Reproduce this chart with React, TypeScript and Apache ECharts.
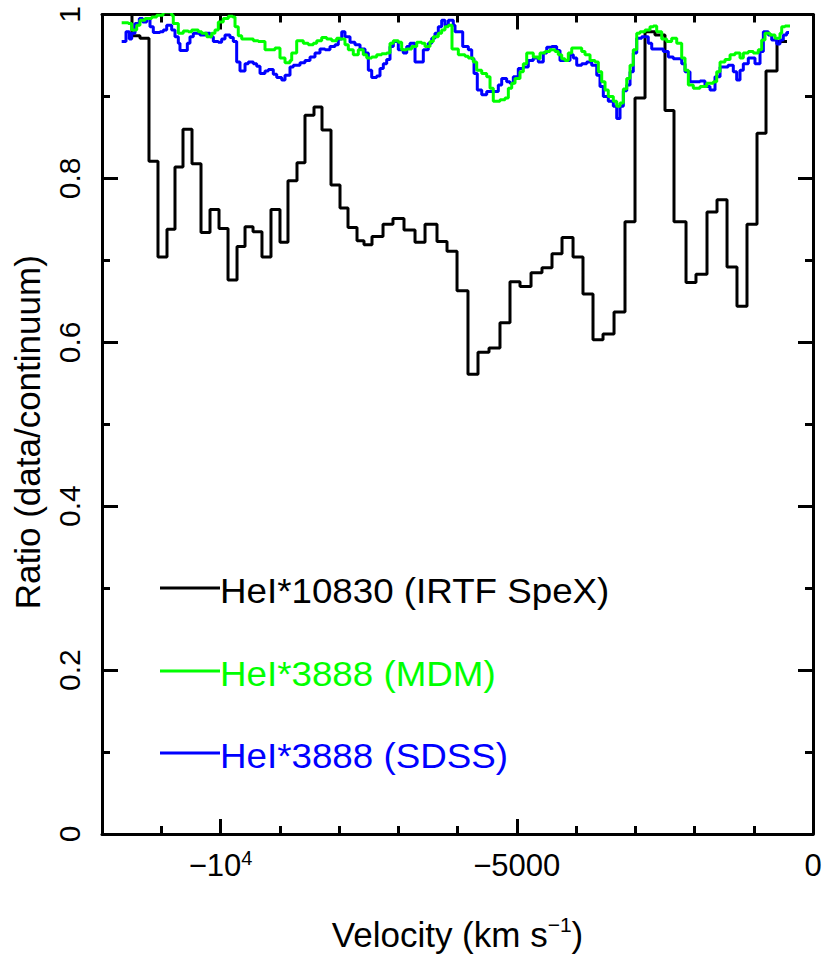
import React, { useEffect, useRef } from 'react';
import * as echarts from 'echarts';

const FONT = '"Liberation Sans", Arial, Helvetica, sans-serif';

// HeI*10830 (IRTF SpeX) — bin left edges (km/s) and ratio; last entry closes the final bin
const irtfVelocity = [
  -11662, -11494, -11359, -11207, -11055, -10903, -10768, -10633, -10481, -10329,
  -10177, -10025, -9873, -9721, -9586, -9451, -9300, -9148, -8996, -8861,
  -8709, -8574, -8422, -8287, -8135, -7983, -7848, -7696, -7578, -7443,
  -7257, -7089, -6903, -6717, -6548, -6346, -6177, -6008, -5823, -5654,
  -5468, -5283, -5114, -4945, -4759, -4574, -4405, -4236, -4050, -3882,
  -3713, -3544, -3358, -3173, -3004, -2835, -2667, -2498, -2346, -2143,
  -1975, -1789, -1620, -1451, -1283, -1114, -945, -793, -607, -439,
];
const irtfRatio = [
  1.05, 0.974, 0.971, 0.821, 0.704, 0.738, 0.814, 0.860, 0.818, 0.734,
  0.762, 0.739, 0.676, 0.717, 0.741, 0.735, 0.704, 0.762, 0.722, 0.797,
  0.819, 0.877, 0.887, 0.859, 0.792, 0.764, 0.740, 0.724, 0.719, 0.729,
  0.744, 0.751, 0.737, 0.722, 0.744, 0.723, 0.711, 0.663, 0.561, 0.588,
  0.593, 0.624, 0.674, 0.668, 0.685, 0.691, 0.708, 0.728, 0.704, 0.659,
  0.603, 0.610, 0.637, 0.747, 0.898, 0.979, 0.975, 0.883, 0.747, 0.673,
  0.683, 0.759, 0.774, 0.692, 0.644, 0.744, 0.855, 0.931, 0.967, 0.967,
];

// HeI*3888 (MDM)
const mdmVelocity = [
  -11668, -11556, -11499, -11414, -11359, -11274, -11161, -11077, -10970, -10824,
  -10797, -10712, -10628, -10543, -10486, -10375, -10317, -10233, -10149, -10093,
  -10037, -9953, -9868, -9794, -9755, -9700, -9642, -9446, -9362, -9249,
  -9080, -8996, -8911, -8827, -8798, -8714, -8602, -8518, -8434, -8376,
  -8292, -8208, -8123, -8039, -7983, -7899, -7843, -7759, -7674, -7590,
  -7532, -7448, -7364, -7279, -7195, -7139, -7083, -6999, -6942, -6857,
  -6773, -6688, -6604, -6548, -6464, -6408, -6324, -6267, -6211, -6155,
  -6093, -5986, -5873, -5817, -5733, -5676, -5591, -5507, -5451, -5396,
  -5283, -5198, -5142, -5085, -5029, -4945, -4889, -4832, -4721, -4636,
  -4607, -4523, -4439, -4354, -4299, -4241, -4186, -4130, -4072, -3904,
  -3848, -3763, -3679, -3623, -3566, -3510, -3455, -3370, -3313, -3257,
  -3201, -3144, -3088, -3033, -2975, -2920, -2835, -2751, -2694, -2638,
  -2553, -2469, -2385, -2300, -2216, -2160, -2104, -2020, -1907, -1794,
  -1682, -1625, -1569, -1485, -1400, -1316, -1232, -1176, -1092, -1007,
  -923, -866, -810, -726, -641, -557, -528, -472, -388,
];
const mdmRatio = [
  0.990, 0.989, 0.981, 0.987, 0.993, 0.995, 0.997, 0.999, 1.003, 0.999,
  0.989, 0.977, 0.980, 0.979, 0.981, 0.979, 0.977, 0.973, 0.977, 0.981,
  0.991, 0.995, 0.998, 0.997, 0.985, 0.974, 0.970, 0.968, 0.967, 0.957,
  0.959, 0.947, 0.941, 0.944, 0.953, 0.968, 0.965, 0.963, 0.965, 0.968,
  0.972, 0.970, 0.968, 0.971, 0.970, 0.963, 0.957, 0.951, 0.957, 0.951,
  0.947, 0.948, 0.951, 0.952, 0.953, 0.965, 0.968, 0.966, 0.957, 0.958,
  0.961, 0.966, 0.965, 0.961, 0.967, 0.973, 0.977, 0.981, 0.985, 0.987,
  0.958, 0.951, 0.949, 0.947, 0.942, 0.932, 0.928, 0.924, 0.910, 0.894,
  0.896, 0.898, 0.910, 0.916, 0.922, 0.930, 0.940, 0.953, 0.948, 0.946,
  0.953, 0.955, 0.957, 0.955, 0.951, 0.946, 0.944, 0.953, 0.959, 0.955,
  0.951, 0.944, 0.942, 0.930, 0.918, 0.908, 0.900, 0.894, 0.888, 0.892,
  0.909, 0.922, 0.938, 0.957, 0.977, 0.979, 0.981, 0.985, 0.986, 0.979,
  0.970, 0.967, 0.971, 0.965, 0.947, 0.932, 0.914, 0.910, 0.912, 0.916,
  0.918, 0.930, 0.942, 0.945, 0.951, 0.953, 0.947, 0.953, 0.955, 0.953,
  0.957, 0.969, 0.977, 0.975, 0.971, 0.977, 0.985, 0.986, 0.986,
];

// HeI*3888 (SDSS)
const sdssVelocity = [
  -11668, -11595, -11539, -11499, -11443, -11370, -11313, -11246, -11190, -11134,
  -11021, -10965, -10908, -10824, -10768, -10712, -10684, -10560, -10515, -10459,
  -10346, -10262, -10177, -10121, -10037, -9980, -9924, -9840, -9784, -9727,
  -9671, -9586, -9531, -9446, -9389, -9333, -9249, -9193, -9109, -9051,
  -8967, -8911, -8827, -8771, -8658, -8574, -8489, -8405, -8321, -8236,
  -8152, -8067, -8012, -7954, -7899, -7814, -7730, -7645, -7561, -7505,
  -7448, -7364, -7308, -7252, -7195, -7139, -7083, -6999, -6915, -6857,
  -6802, -6717, -6577, -6493, -6435, -6380, -6324, -6267, -6211, -6155,
  -6071, -6042, -5912, -5817, -5760, -5721, -5666, -5591, -5507, -5311,
  -5254, -5170, -5114, -5058, -4974, -4889, -4805, -4721, -4636, -4552,
  -4494, -4410, -4326, -4270, -4101, -4045, -3988, -3904, -3819, -3735,
  -3650, -3595, -3539, -3455, -3370, -3313, -3257, -3201, -3144, -3088,
  -3033, -2975, -2891, -2780, -2722, -2526, -2442, -2358, -2216, -2160,
  -2076, -1907, -1823, -1738, -1654, -1569, -1434, -1345, -1288, -1232,
  -1176, -1092, -979, -894, -838, -754, -697, -612, -557, -501,
  -444, -405,
];
const sdssRatio = [
  0.967, 0.979, 0.970, 0.977, 0.989, 0.995, 0.991, 0.995, 0.985, 0.978,
  0.979, 0.981, 0.987, 0.981, 0.973, 0.965, 0.956, 0.965, 0.973, 0.977,
  0.975, 0.977, 0.973, 0.967, 0.966, 0.970, 0.975, 0.972, 0.967, 0.942,
  0.931, 0.940, 0.942, 0.940, 0.937, 0.928, 0.931, 0.933, 0.927, 0.923,
  0.920, 0.926, 0.936, 0.938, 0.941, 0.944, 0.948, 0.953, 0.958, 0.957,
  0.961, 0.963, 0.970, 0.979, 0.973, 0.966, 0.963, 0.958, 0.953, 0.932,
  0.923, 0.925, 0.934, 0.940, 0.945, 0.961, 0.967, 0.957, 0.953, 0.961,
  0.965, 0.942, 0.957, 0.965, 0.971, 0.977, 0.985, 0.993, 0.987, 0.993,
  0.987, 0.979, 0.961, 0.957, 0.946, 0.928, 0.908, 0.902, 0.906, 0.914,
  0.922, 0.918, 0.916, 0.924, 0.934, 0.936, 0.944, 0.947, 0.942, 0.953,
  0.960, 0.961, 0.956, 0.944, 0.951, 0.947, 0.938, 0.940, 0.942, 0.938,
  0.926, 0.912, 0.900, 0.894, 0.888, 0.873, 0.888, 0.907, 0.914, 0.930,
  0.953, 0.971, 0.973, 0.965, 0.958, 0.955, 0.948, 0.946, 0.940, 0.930,
  0.918, 0.919, 0.912, 0.908, 0.924, 0.936, 0.938, 0.930, 0.920, 0.932,
  0.940, 0.947, 0.940, 0.955, 0.979, 0.975, 0.969, 0.964, 0.969, 0.975,
  0.978, 0.978,
];

const xMajorTicks = [-10000, -5000, 0];
const yMajorTicks = [0, 0.2, 0.4, 0.6, 0.8, 1];

const seriesNames = ['HeI*10830 (IRTF SpeX)', 'HeI*3888 (MDM)', 'HeI*3888 (SDSS)'];
const seriesColors = ['#000000', '#00ff00', '#0000ff'];

function pairs(xs: number[], ys: number[]) {
  return xs.map((x, i) => [x, ys[i]]);
}

export default function App() {
  const ref = useRef<HTMLDivElement>(null);

  useEffect(() => {
    const chart = echarts.init(ref.current!, null, { renderer: 'svg' });
    const lineStyle = { color: '#000', width: 3 };

    const xBase = {
      type: 'value',
      min: -12000,
      max: 0,
      interval: 1000,
      splitLine: { show: false },
      axisLine: { show: true, onZero: false, lineStyle },
    };
    const yBase = {
      type: 'value',
      min: 0,
      max: 1,
      interval: 0.1,
      splitLine: { show: false },
      axisLine: { show: true, onZero: false, lineStyle },
    };

    const xFormatter = (v: number) => {
      if (v === -10000) return '{m|−10}{s|4}';
      if (v === 0) return '{m|0}';
      return '{m|−' + Math.abs(v) + '}';
    };
    const yFormatter = (v: number) => (v === 0 ? '0' : v === 1 ? '1' : v.toFixed(1));

    const seriesData = [
      pairs(irtfVelocity, irtfRatio),
      pairs(mdmVelocity, mdmRatio),
      pairs(sdssVelocity, sdssRatio),
    ];
    const drawOrder = [0, 2, 1];

    const legendY = [588, 671, 753];
    const graphic: any[] = [];
    seriesNames.forEach((name, i) => {
      graphic.push({
        type: 'line',
        shape: { x1: 160, y1: legendY[i], x2: 220, y2: legendY[i] },
        style: { stroke: seriesColors[i], lineWidth: 3 },
      });
      graphic.push({
        type: 'text',
        x: 220,
        y: legendY[i] + 3,
        scaleX: 1.05,
        style: {
          text: name,
          fill: seriesColors[i],
          fontSize: 35,
          fontFamily: FONT,
          align: 'left',
          verticalAlign: 'middle',
        },
      });
    });

    chart.setOption({
      animation: false,
      backgroundColor: '#ffffff',
      grid: {
        left: 102,
        right: 17,
        top: 14.5,
        bottom: 130,
        containLabel: false,
        outerBoundsMode: 'none',
      },
      xAxis: [
        {
          ...xBase,
          position: 'bottom',
          axisTick: { show: true, inside: true, length: 8, lineStyle },
          axisLabel: {
            show: true,
            customValues: xMajorTicks,
            formatter: xFormatter,
            margin: 14,
            rich: {
              m: { fontSize: 31, fontFamily: FONT, color: '#000', lineHeight: 34 },
              s: { fontSize: 20, fontFamily: FONT, color: '#000', lineHeight: 20, verticalAlign: 'top' },
            },
          },
          name: '{m|Velocity (km s}{s|−1}{m|)}',
          nameLocation: 'middle',
          nameGap: 80,
          nameTextStyle: {
            rich: {
              m: { fontSize: 35, fontFamily: FONT, color: '#000', lineHeight: 40 },
              s: { fontSize: 21, fontFamily: FONT, color: '#000', lineHeight: 21, verticalAlign: 'top' },
            },
          },
        },
        {
          ...xBase,
          position: 'bottom',
          axisLine: { show: false, onZero: false },
          axisTick: { show: true, inside: true, length: 15, customValues: xMajorTicks, lineStyle },
          axisLabel: { show: false },
        },
        {
          ...xBase,
          position: 'top',
          axisTick: { show: true, inside: true, length: 8, lineStyle },
          axisLabel: { show: false },
        },
        {
          ...xBase,
          position: 'top',
          axisLine: { show: false, onZero: false },
          axisTick: { show: true, inside: true, length: 15, customValues: xMajorTicks, lineStyle },
          axisLabel: { show: false },
        },
      ],
      yAxis: [
        {
          ...yBase,
          position: 'left',
          axisTick: { show: true, inside: true, length: 8, lineStyle },
          axisLabel: {
            show: true,
            customValues: yMajorTicks,
            formatter: yFormatter,
            rotate: 90,
            margin: 18,
            fontSize: 30,
            fontFamily: FONT,
            color: '#000',
          },
          name: 'Ratio (data/continuum)',
          nameLocation: 'middle',
          nameGap: 57,
          nameTextStyle: { fontSize: 35, fontFamily: FONT, color: '#000', padding: [0, 16, 0, 0] },
        },
        {
          ...yBase,
          position: 'left',
          axisLine: { show: false, onZero: false },
          axisTick: { show: true, inside: true, length: 16, customValues: yMajorTicks, lineStyle },
          axisLabel: { show: false },
        },
        {
          ...yBase,
          position: 'right',
          axisTick: { show: true, inside: true, length: 8, lineStyle },
          axisLabel: { show: false },
        },
        {
          ...yBase,
          position: 'right',
          axisLine: { show: false, onZero: false },
          axisTick: { show: true, inside: true, length: 15, customValues: yMajorTicks, lineStyle },
          axisLabel: { show: false },
        },
      ],
      series: drawOrder.map((i) => ({
        name: seriesNames[i],
        type: 'line',
        step: 'end',
        xAxisIndex: 0,
        yAxisIndex: 0,
        showSymbol: false,
        symbol: 'none',
        clip: true,
        data: seriesData[i],
        lineStyle: { color: seriesColors[i], width: 3 },
        itemStyle: { color: seriesColors[i] },
        emphasis: { disabled: true },
      })),
      graphic,
    });

    return () => chart.dispose();
  }, []);

  return (
    <div
      ref={ref}
      style={{ position: 'absolute', left: 0, top: 0, width: 830, height: 964, background: '#fff' }}
    />
  );
}
